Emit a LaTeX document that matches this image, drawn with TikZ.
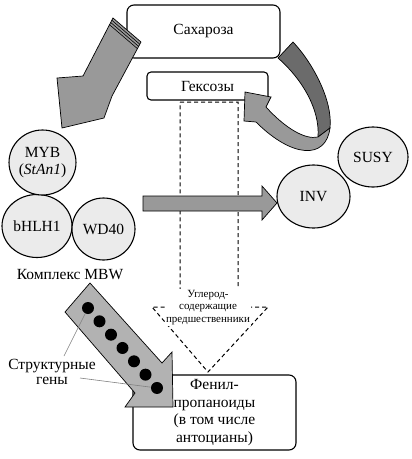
\documentclass[tikz,border=0pt]{standalone}
\usepackage{fontspec}
\setmainfont{Liberation Serif}
\usetikzlibrary{shapes.geometric}

\definecolor{blobgrey}{gray}{0.92}
\definecolor{arrowgrey}{gray}{0.6}
\definecolor{bandgrey}{gray}{0.42}
\definecolor{genegrey}{gray}{0.7}

\begin{document}
\begin{tikzpicture}[x=1pt,y=-1pt,
  box/.style={draw=black, line width=1.1pt, rounded corners=7pt, fill=white, font=\fontsize{15.5}{17.5}\selectfont, align=center},
  blob/.style={ellipse, draw=black, line width=1.1pt, fill=blobgrey, inner sep=0pt, font=\fontsize{15.5}{17}\selectfont, align=center},
  fat/.style={fill=arrowgrey, draw=black, line width=0.7pt, line join=miter},
  gene/.style={circle, fill=black, inner sep=0pt, minimum size=12pt},
  leader/.style={draw=gray, line width=0.6pt},
  lbl/.style={font=\fontsize{15.5}{15}\selectfont, align=center, inner sep=0pt}]
\useasboundingbox (0,0) rectangle (412,459);

\node[box, minimum width=153pt, minimum height=53pt] (sucrose) at (203.5,31.5) {Сахароза};
\node[box, rounded corners=4pt, minimum width=121pt, minimum height=28pt] (hexoses) at (207.5,86) {Гексозы};
\node[box, minimum width=163pt, minimum height=75pt] (phenyl) at (214.5,412.5) {Фенил-\\пропаноиды\\(в том числе\\антоцианы)};

\filldraw[fat] (113,18) -- (141,42) -- (112,96) -- (104,118) -- (62,128) -- (57,78) -- (83,76) -- cycle;
\foreach \d in {2.5,5,7.5}
  \draw[line width=0.6pt] ({113-0.48*\d},{18+0.88*\d}) -- ({141-0.48*\d},{42+0.88*\d});

\filldraw[fat, fill=bandgrey] (278,58) -- (293,42) .. controls (312,62) and (333,100) .. (330,128) -- (318,137) .. controls (320,110) and (303,80) .. (278,58) -- cycle;
\filldraw[fat] (318,137) -- (330,128) .. controls (326,160) and (292,158) .. (256,122) -- (244,121) -- (245,92) -- (271,97) -- (266,107) .. controls (285,128) and (305,140) .. (318,137) -- cycle;

\draw[line width=1pt, dash pattern=on 4pt off 3pt] (180,102) -- (238,102) -- (238,307) -- (268,307) -- (208,372) -- (152,307) -- (180,307) -- cycle;
\node[fill=white, inner sep=1pt, align=center, font=\fontsize{11}{12.5}\selectfont] (precursors) at (208,307.5) {Углерод-\\содержащие\\предшественники};

\node[blob, minimum width=70pt, minimum height=63pt] (bhlh) at (37,226) {bHLH1};
\node[blob, minimum width=63pt, minimum height=62pt] (wd40) at (103.5,229) {WD40};
\node[blob, minimum width=55pt, minimum height=65pt] (myb) at (42.5,162.5) {MYB\\(\textit{StAn1})};
\node[lbl] (complex) at (70,275) {Комплекс MBW};

\filldraw[fat] (143,196) -- (262,196) -- (262,186) -- (277,203) -- (262,220) -- (262,211) -- (143,211) -- cycle;
\node[blob, minimum width=73pt, minimum height=63pt] (inv) at (313.5,196.5) {INV};
\node[blob, minimum width=70pt, minimum height=60pt] (susy) at (373,157) {SUSY};

\filldraw[fat, fill=genegrey] (90,283) -- (162,363) -- (172,352) -- (173,407) -- (125,407) -- (135,393) -- (65,312) -- cycle;
\node[lbl] (genes) at (52,371.5) {Структурные\\гены};
\coordinate (gtop) at (64,356);
\coordinate (gbot) at (80,378);
\foreach \i in {0,...,6}
  \node[gene] (g\i) at ({88+11.5*\i},{308+13.33*\i}) {};
\draw[leader] (gtop) -- (g0);
\draw[leader] (gbot) -- (g6);
\end{tikzpicture}
\end{document}
